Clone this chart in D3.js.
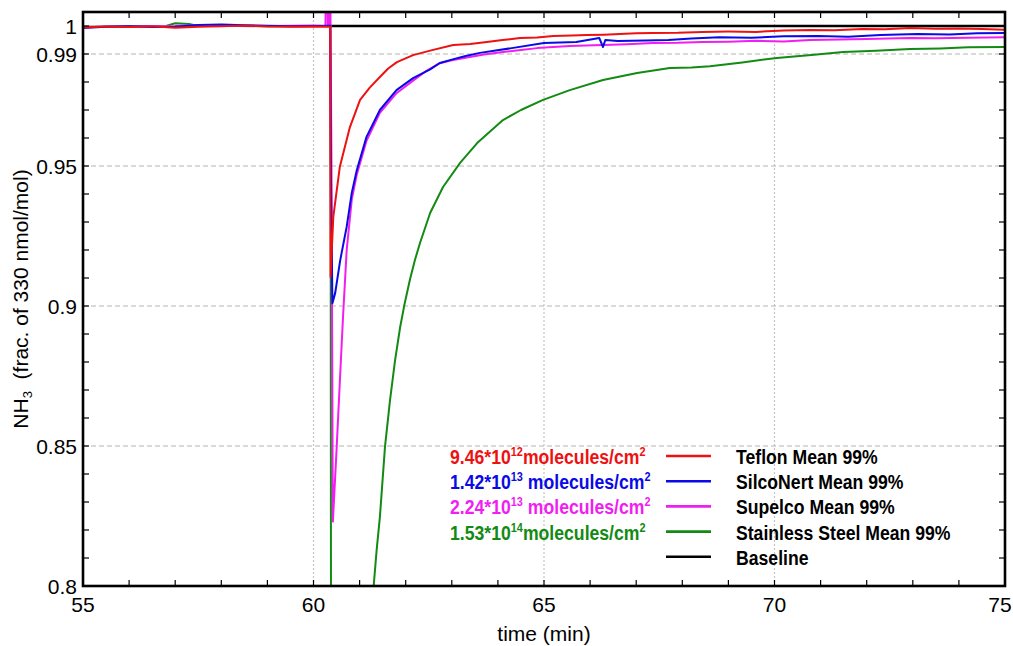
<!DOCTYPE html>
<html><head><meta charset="utf-8">
<script src="https://cdn.jsdelivr.net/npm/d3@7"></script>
<style>body{margin:0;background:#fff}</style>
</head><body><svg id="c" width="1013" height="646"></svg>
<script>
// ---- data ----
const xTickValues=[55,60,65,70,75];
const yTickValues=[0.8,0.85,0.9,0.95,0.99,1];
const yTickLabels=["0.8","0.85","0.9","0.95","0.99","1"];
const yGridValues=[0.85,0.9,0.95,0.99];
const xGridValues=[60,65,70];
const seriesNames=["Teflon Mean 99%","SilcoNert Mean 99%","Supelco Mean 99%","Stainless Steel Mean 99%","Baseline"];
const seriesColors=["#ee1111","#0a0ae6","#f01ef0","#138a13","#000000"];
const coverageMantissa=["9.46*10","1.42*10","2.24*10","1.53*10"];
const coverageExponent=["12","13","13","14"];
const coverageUnit=["molecules/cm"," molecules/cm"," molecules/cm","molecules/cm"];

const tefTime=[55,55.5,56,56.5,57,57.5,58,58.5,59,59.5,60,60.36,60.37,60.43,60.57,60.79,61.01,61.22,61.44,61.62,61.81,62.16,62.53,63.03,63.4,63.76,64.1,64.48,64.85,65.2,65.6,65.93,66.3,66.64,67.0,67.36,67.9,68.44,69.0,69.6,70.2,70.77,71.3,71.9,72.4,72.94,73.5,74.0,74.5,75];
const tefValue=[0.9995,0.9998,0.9996,0.9999,0.9994,0.9997,0.9999,1.0002,0.9998,0.9997,0.9998,0.9997,0.9104,0.9319,0.9496,0.9639,0.9736,0.9780,0.9818,0.9848,0.9871,0.9896,0.9912,0.9932,0.9936,0.9943,0.9950,0.9957,0.9959,0.9964,0.9966,0.9968,0.9969,0.9971,0.9974,0.9975,0.9976,0.9979,0.9980,0.9979,0.9984,0.9986,0.9985,0.9989,0.9988,0.9993,0.9990,0.9991,0.9989,0.9987];

const silTime=[55,55.5,56,56.5,57,57.5,58,58.5,59,59.5,60,60.36,60.38,60.41,60.47,60.58,60.72,60.83,60.94,61.15,61.44,61.8,62.16,62.53,62.74,63.0,63.3,63.61,64.3,65.0,65.7,66.2,66.28,66.33,66.6,67.2,67.7,68.2,68.8,69.5,70.2,70.95,71.6,72.3,73.1,73.8,74.4,75];
const silValue=[0.9993,0.9997,0.9999,0.9996,0.9997,1.0004,1.0005,1.0003,1.0001,0.9999,1.0,1.0001,0.944,0.901,0.9046,0.9164,0.9283,0.9404,0.9486,0.9604,0.970,0.9771,0.9814,0.9845,0.9868,0.9880,0.9893,0.9904,0.9921,0.9939,0.9943,0.9957,0.9925,0.9950,0.9946,0.9948,0.9950,0.9955,0.9960,0.9958,0.9963,0.9964,0.9962,0.9968,0.9971,0.9970,0.9974,0.9975];

const supTime=[55,56,57,57.5,58,59,60,60.26,60.27,60.30,60.31,60.33,60.34,60.36,60.37,60.39,60.42,60.50,60.57,60.64,60.72,60.83,60.94,61.15,61.44,61.8,62.16,62.45,62.74,63.0,63.39,63.7,64.11,64.5,64.85,65.2,65.56,65.9,66.28,66.8,67.36,67.9,68.44,69.0,69.6,70.2,70.77,71.4,72.0,72.94,73.5,74.2,75];
const supValue=[0.9996,0.9998,1.0,1.0003,1.0002,1.0,1.0002,1.0,1.02,1.02,1.0,1.0,1.02,1.02,1.0,0.95,0.823,0.8486,0.8725,0.896,0.92,0.938,0.947,0.959,0.969,0.976,0.9805,0.9840,0.9867,0.9878,0.9889,0.9898,0.9907,0.9914,0.9921,0.9925,0.9929,0.9930,0.9932,0.9935,0.9939,0.9940,0.9943,0.9944,0.9947,0.9945,0.9950,0.9952,0.9954,0.9957,0.9956,0.9958,0.9960];

const steTime=[55,56,56.8,57.0,57.3,57.5,58,59,60,60.37,60.39,61.1,61.31,61.37,61.44,61.55,61.66,61.77,61.88,61.98,62.09,62.2,62.31,62.53,62.81,63.18,63.55,64.11,64.5,64.98,65.56,66.28,67.02,67.73,68.2,68.6,69.3,70.05,70.8,71.49,72.2,72.94,73.6,74.2,75];
const steValue=[0.9997,0.9999,1.0,1.0010,1.0007,1.0,1.0001,0.9999,1.0,1.0,0.55,0.745,0.801,0.8129,0.8246,0.8496,0.8664,0.8807,0.8925,0.9011,0.9093,0.9164,0.9225,0.9332,0.9425,0.9511,0.9582,0.9664,0.9700,0.9736,0.9771,0.9807,0.9832,0.9850,0.9852,0.9856,0.9870,0.9886,0.9896,0.9907,0.9912,0.9918,0.9920,0.9924,0.9925];

const baseTime=[60.36,75];
const baseValue=[1,1];

// ---- drawing ----
const L=83,R=1005,T=12,B=586;
const svg=d3.select("#c");
const x=d3.scaleLinear().domain([55,75]).range([L,R]);
const y=d3.scaleLinear().domain([0.8,1.005]).range([B,T]);
const font="'Liberation Sans', Arial, sans-serif";

svg.append("defs").append("clipPath").attr("id","clip")
  .append("rect").attr("x",L).attr("y",T).attr("width",R-L).attr("height",B-T);

// grid
svg.append("g").selectAll("line").data(yGridValues).join("line")
  .attr("x1",L).attr("x2",R).attr("y1",d=>y(d)).attr("y2",d=>y(d))
  .attr("stroke","#b4b4b4").attr("stroke-width",1).attr("stroke-dasharray","5,3");
svg.append("g").selectAll("line").data(xGridValues).join("line")
  .attr("y1",T).attr("y2",B).attr("x1",d=>x(d)).attr("x2",d=>x(d))
  .attr("stroke","#c4c4c4").attr("stroke-width",1.2).attr("stroke-dasharray","2,2");

const line=d3.line().x(d=>x(d[0])).y(d=>y(d[1]));
const zip=(a,b)=>a.map((t,i)=>[t,b[i]]);
const series=[
  {t:baseTime,v:baseValue,c:seriesColors[4],w:2.6},
  {t:steTime,v:steValue,c:seriesColors[3],w:2},
  {t:supTime,v:supValue,c:seriesColors[2],w:2},
  {t:silTime,v:silValue,c:seriesColors[1],w:2},
  {t:tefTime,v:tefValue,c:seriesColors[0],w:2}
];
const plot=svg.append("g").attr("clip-path","url(#clip)");
series.forEach(s=>{
  plot.append("path").datum(zip(s.t,s.v)).attr("d",line)
    .attr("fill","none").attr("stroke",s.c).attr("stroke-width",s.w)
    .attr("stroke-linejoin","round");
});

// frame
svg.append("rect").attr("x",L).attr("y",T).attr("width",R-L).attr("height",B-T)
  .attr("fill","none").attr("stroke","#000").attr("stroke-width",2.6);

// ticks
const xMinor=d3.range(55,76,1);
const yMinor=d3.range(80,101,1).map(d=>d/100);
const tk=svg.append("g").attr("stroke","#000").attr("stroke-width",1.2);
xMinor.forEach(t=>{
  tk.append("line").attr("x1",x(t)).attr("x2",x(t)).attr("y1",B).attr("y2",B-6);
  tk.append("line").attr("x1",x(t)).attr("x2",x(t)).attr("y1",T).attr("y2",T+6);
});
yMinor.forEach(v=>{
  tk.append("line").attr("x1",L).attr("x2",L+6).attr("y1",y(v)).attr("y2",y(v));
  tk.append("line").attr("x1",R).attr("x2",R-6).attr("y1",y(v)).attr("y2",y(v));
});

// tick labels
svg.append("g").selectAll("text").data(xTickValues).join("text")
  .attr("x",d=>Math.min(x(d),1000)).attr("y",612).attr("text-anchor","middle")
  .attr("font-family",font).attr("font-size",21).text(d=>d);
svg.append("g").selectAll("text").data(yTickValues).join("text")
  .attr("x",77).attr("y",d=>y(d)+7.5).attr("text-anchor","end")
  .attr("font-family",font).attr("font-size",21).text((d,i)=>yTickLabels[i]);

// axis titles
svg.append("text").attr("x",(L+R)/2).attr("y",641).attr("text-anchor","middle")
  .attr("font-family",font).attr("font-size",21).text("time (min)");
const yt=svg.append("text").attr("transform",`translate(28,${(T+B)/2}) rotate(-90)`)
  .attr("text-anchor","middle").attr("font-family",font).attr("font-size",21);
yt.append("tspan").text("NH");
yt.append("tspan").attr("font-size",13).attr("dy",4).text("3");
yt.append("tspan").attr("dy",-4).text("\u00a0 (frac. of 330 nmol/mol)");

// legend (condensed bold text)
const lg=svg.append("g");
const sx=0.84;
seriesNames.forEach((n,i)=>{
  const ly=456+i*25.2;
  lg.append("line").attr("x1",666).attr("x2",711).attr("y1",ly).attr("y2",ly)
    .attr("stroke",seriesColors[i]).attr("stroke-width",2.6);
  lg.append("g").attr("transform",`translate(736,${ly+8}) scale(${sx},1)`)
    .append("text").attr("font-family",font)
    .attr("font-weight","bold").attr("font-size",21).attr("fill","#000").text(n);
});
coverageMantissa.forEach((m,i)=>{
  const ly=456+i*25.2+8;
  const t=lg.append("g").attr("transform",`translate(450,${ly}) scale(${sx},1)`)
    .append("text").attr("font-family",font).attr("xml:space","preserve")
    .attr("font-weight","bold").attr("font-size",21).attr("fill",seriesColors[i]);
  t.append("tspan").text(m);
  t.append("tspan").attr("font-size",13).attr("dy",-8).text(coverageExponent[i]);
  t.append("tspan").attr("dy",8).text(coverageUnit[i]);
  t.append("tspan").attr("font-size",13).attr("dy",-8).text("2");
});
</script></body></html>
